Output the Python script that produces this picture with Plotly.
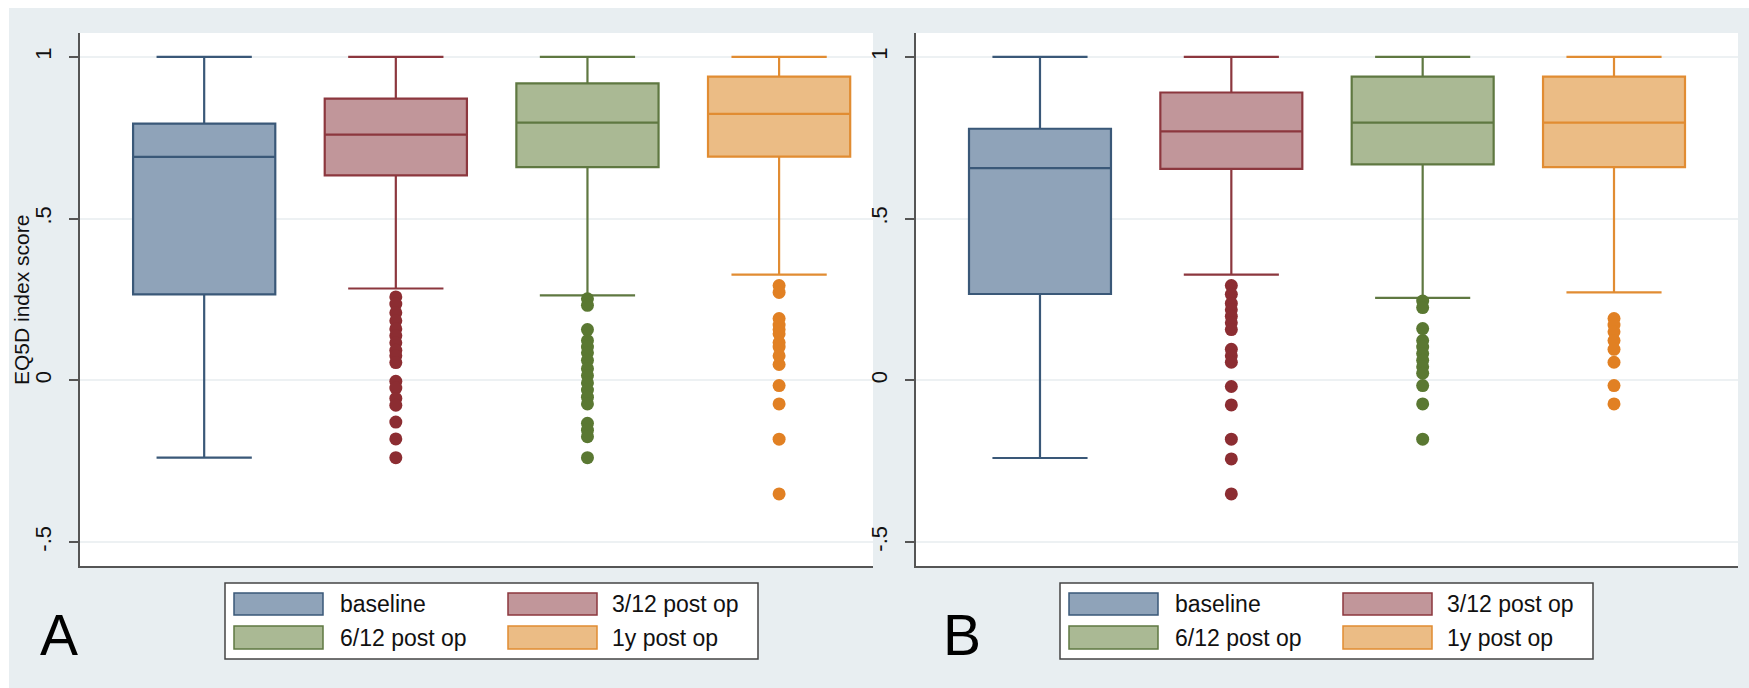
import plotly.graph_objects as go

# Groups (time points)
groups = ["baseline", "3/12 post op", "6/12 post op", "1y post op"]

# Panel A: box statistics per group
a_lower = [-0.239, 0.284, 0.263, 0.327]
a_q1 = [0.266, 0.634, 0.659, 0.692]
a_median = [0.691, 0.760, 0.797, 0.824]
a_q3 = [0.794, 0.871, 0.918, 0.939]
a_upper = [1.0, 1.0, 1.0, 1.0]

# Panel A: outlying observations
a_out_base = []
a_out_3m = [0.258, 0.236, 0.209, 0.184, 0.159, 0.138, 0.116, 0.093, 0.076, 0.055,
            -0.003, -0.024, -0.056, -0.077, -0.129, -0.181, -0.239]
a_out_6m = [0.252, 0.232, 0.157, 0.123, 0.103, 0.085, 0.062, 0.036, 0.015, -0.008,
            -0.030, -0.052, -0.073, -0.133, -0.154, -0.174, -0.239]
a_out_1y = [0.293, 0.272, 0.191, 0.171, 0.157, 0.144, 0.117, 0.103, 0.076, 0.049,
            -0.016, -0.073, -0.182, -0.351]

# Panel B: box statistics per group
b_lower = [-0.240, 0.327, 0.255, 0.272]
b_q1 = [0.267, 0.654, 0.668, 0.659]
b_median = [0.656, 0.770, 0.797, 0.797]
b_q3 = [0.778, 0.890, 0.939, 0.939]
b_upper = [1.0, 1.0, 1.0, 1.0]

# Panel B: outlying observations
b_out_base = []
b_out_3m = [0.293, 0.266, 0.238, 0.218, 0.198, 0.178, 0.157, 0.096, 0.076, 0.056,
            -0.019, -0.076, -0.182, -0.243, -0.351]
b_out_6m = [0.245, 0.225, 0.160, 0.123, 0.103, 0.083, 0.062, 0.042, 0.022,
            -0.016, -0.073, -0.182]
b_out_1y = [0.191, 0.171, 0.150, 0.123, 0.096, 0.056, -0.016, -0.073]

# Y axis ticks
y_tickvals = [-0.5, 0, 0.5, 1]
y_ticktext = ["-.5", "0", ".5", "1"]

# Styling
fill_colors = ["#8fa3b9", "#c1969a", "#aab994", "#ebbc85"]
line_colors = ["#3a5878", "#8c373e", "#5f7841", "#e18c32"]
dot_colors = ["#3a5878", "#8c2d32", "#5a7832", "#e18023"]
BG = "#e8eef1"
GRID = "#edf1f3"
AXIS = "#555555"
FONT = "Liberation Sans, Arial, sans-serif"

W, H = 1749, 688


def px(x):
    return x / W


def py(y):
    return 1 - y / H


fig = go.Figure()

panels = [
    ("x", "y", a_lower, a_q1, a_median, a_q3, a_upper,
     [a_out_base, a_out_3m, a_out_6m, a_out_1y]),
    ("x2", "y2", b_lower, b_q1, b_median, b_q3, b_upper,
     [b_out_base, b_out_3m, b_out_6m, b_out_1y]),
]

for xa, ya, lo, q1, med, q3, up, outs in panels:
    for i, name in enumerate(groups):
        fig.add_trace(go.Box(
            x=[i], q1=[q1[i]], median=[med[i]], q3=[q3[i]],
            lowerfence=[lo[i]], upperfence=[up[i]],
            name=name, boxpoints=False, width=0.742, whiskerwidth=0.67,
            fillcolor=fill_colors[i], line=dict(color=line_colors[i], width=2.2),
            xaxis=xa, yaxis=ya, showlegend=False, hoverinfo="skip",
        ))
        if outs[i]:
            fig.add_trace(go.Scatter(
                x=[i] * len(outs[i]), y=outs[i], mode="markers",
                marker=dict(size=13, color=dot_colors[i], line=dict(width=0)),
                xaxis=xa, yaxis=ya, showlegend=False, hoverinfo="skip",
            ))

y_dom = [py(566), py(33)]
yaxis_style = dict(
    domain=y_dom, range=[-0.574, 1.074],
    tickvals=y_tickvals, ticktext=y_ticktext, tickangle=-90,
    ticks="outside", ticklen=9, tickwidth=1.5, tickcolor=AXIS,
    tickfont=dict(family=FONT, size=22, color="#111111"),
    showgrid=True, gridcolor=GRID, gridwidth=1.5, zeroline=False,
    showline=True, linecolor=AXIS, linewidth=2, ticklabelstandoff=9,
)
xaxis_style = dict(
    showticklabels=False, ticks="", showgrid=False, zeroline=False,
    showline=True, linecolor=AXIS, linewidth=2,
)

fig.update_layout(
    width=W, height=H, autosize=False,
    margin=dict(l=0, r=0, t=0, b=0),
    paper_bgcolor=BG, plot_bgcolor="white",
    showlegend=False,
    xaxis=dict(domain=[px(80), px(873)], range=[-0.648, 3.49], anchor="y", **xaxis_style),
    xaxis2=dict(domain=[px(916), px(1738)], range=[-0.648, 3.648], anchor="y2", **xaxis_style),
    yaxis=dict(anchor="x", **yaxis_style),
    yaxis2=dict(anchor="x2", **yaxis_style),
)

shapes = [
    # thin white strips along the top and left edges
    dict(type="rect", xref="paper", yref="paper", x0=0, x1=1, y0=py(8), y1=1,
         fillcolor="white", line=dict(width=0), layer="above"),
    dict(type="rect", xref="paper", yref="paper", x0=0, x1=px(9), y0=0, y1=1,
         fillcolor="white", line=dict(width=0), layer="above"),
]
annotations = []

# Legend boxes below each panel
col_sw = [(234, 323), (508, 597)]
col_tx = [338, 610]
rows = [(593, 615), (626, 649)]
for dx in (0, 835):
    shapes.append(dict(type="rect", xref="paper", yref="paper",
                       x0=px(225 + dx), x1=px(758 + dx), y0=py(659), y1=py(583),
                       fillcolor="white", line=dict(color="#444444", width=1.5),
                       layer="above"))
    for i, name in enumerate(groups):
        r, c = divmod(i, 2)
        (sx0, sx1), (sy0, sy1) = col_sw[c], rows[r]
        shapes.append(dict(type="rect", xref="paper", yref="paper",
                           x0=px(sx0 + dx), x1=px(sx1 + dx), y0=py(sy1), y1=py(sy0),
                           fillcolor=fill_colors[i],
                           line=dict(color=line_colors[i], width=1.5), layer="above"))
        annotations.append(dict(xref="paper", yref="paper", x=px(col_tx[c] + dx),
                                y=py((sy0 + sy1) / 2), text=name, showarrow=False,
                                xanchor="left", yanchor="middle",
                                font=dict(family=FONT, size=23, color="#111111")))

# Panel letters
for letter, cx in (("A", 59), ("B", 962)):
    annotations.append(dict(xref="paper", yref="paper", x=px(cx), y=py(635),
                            text=letter, showarrow=False, xanchor="center",
                            yanchor="middle",
                            font=dict(family=FONT, size=57, color="#000000")))

# Y axis title
annotations.append(dict(xref="paper", yref="paper", x=px(21), y=py(300),
                        text="EQ5D index score", textangle=-90, showarrow=False,
                        xanchor="center", yanchor="middle",
                        font=dict(family=FONT, size=21, color="#111111")))

fig.update_layout(shapes=shapes, annotations=annotations)

fig.write_html("out.html")
